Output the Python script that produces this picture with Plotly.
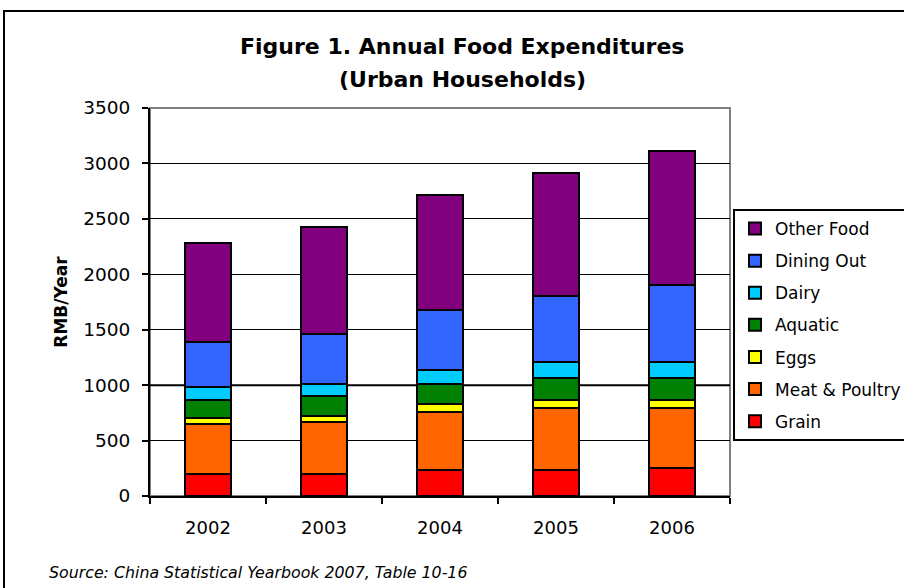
import plotly.graph_objects as go

years = ["2002", "2003", "2004", "2005", "2006"]
grain = [199, 199, 235, 235, 253]
meat_poultry = [452, 470, 524, 561, 543]
eggs = [54, 54, 73, 72, 72]
aquatic = [163, 181, 181, 199, 199]
dairy = [111, 109, 126, 145, 145]
dining_out = [413, 452, 543, 596, 687]
other_food = [887, 964, 1033, 1103, 1211]

series = [
    ("Grain", grain, "#FF0000"),
    ("Meat & Poultry", meat_poultry, "#FF6600"),
    ("Eggs", eggs, "#FFFF00"),
    ("Aquatic", aquatic, "#008000"),
    ("Dairy", dairy, "#00CCFF"),
    ("Dining Out", dining_out, "#3366FF"),
    ("Other Food", other_food, "#800080"),
]

FONT = "DejaVu Sans, Liberation Sans, Arial, sans-serif"

fig = go.Figure()
n = len(series)
for i, (name, vals, color) in enumerate(series):
    fig.add_trace(go.Bar(
        x=years, y=vals, name=name, legendgroup=name,
        legendrank=1000 + (n - i),
        marker=dict(color=color, line=dict(color="black", width=2)),
    ))

W, H = 904, 588
L, R, T, B = 150, 730, 108, 496
pw, ph = R - L, B - T

def px(x):
    return (x - L) / pw

def py(y):
    return (B - y) / ph

fig.update_layout(
    width=W, height=H,
    margin=dict(l=L, r=W - R, t=T, b=H - B, pad=0, autoexpand=False),
    paper_bgcolor="white", plot_bgcolor="white",
    barmode="stack", bargap=0.6,
    font=dict(family=FONT, color="black", size=18),
    showlegend=True,
    legend=dict(
        x=px(733), y=py(209), xanchor="left", yanchor="top",
        traceorder="grouped",
        bordercolor="black", borderwidth=2, bgcolor="white",
        font=dict(family=FONT, size=17, color="black"),
        tracegroupgap=7,
    ),
    xaxis=dict(
        type="category", showgrid=False,
        showline=True, linecolor="black", linewidth=2,
        ticks="outside", ticklen=6, tickwidth=2, tickcolor="black",
        tickson="boundaries",
        tickfont=dict(family=FONT, size=18),
        ticklabelstandoff=14,
    ),
    yaxis=dict(
        range=[0, 3500], dtick=500, tick0=0,
        showgrid=True, gridcolor="black", gridwidth=1,
        zeroline=False,
        showline=True, linecolor="black", linewidth=2,
        ticks="outside", ticklen=6, tickwidth=2, tickcolor="black",
        tickfont=dict(family=FONT, size=18.5),
        ticklabelstandoff=8,
        title=dict(text="<b>RMB/Year</b>", font=dict(family=FONT, size=17), standoff=11),
    ),
    shapes=[
        dict(type="rect", xref="paper", yref="paper", x0=0, x1=1, y0=0, y1=1,
             line=dict(color="#808080", width=2), layer="below"),
        dict(type="line", xref="paper", yref="y", x0=0, x1=1, y0=1000, y1=1000,
             line=dict(color="black", width=2), layer="below"),
        dict(type="rect", xref="paper", yref="paper",
             x0=px(4), x1=px(920), y0=py(600), y1=py(11),
             line=dict(color="black", width=2), layer="below"),
    ],
    annotations=[
        dict(text="<b>Figure 1. Annual Food Expenditures</b>", xref="paper", yref="paper",
             x=px(462), y=py(47), xanchor="center", yanchor="middle", showarrow=False,
             font=dict(family=FONT, size=22, color="black")),
        dict(text="<b>(Urban Households)</b>", xref="paper", yref="paper",
             x=px(462), y=py(79), xanchor="center", yanchor="middle", showarrow=False,
             font=dict(family=FONT, size=22, color="black")),
        dict(text="<i>Source: China Statistical Yearbook 2007, Table 10-16</i>",
             xref="paper", yref="paper", x=px(47), y=py(572),
             xanchor="left", yanchor="middle", showarrow=False,
             font=dict(family=FONT, size=15.8, color="black")),
    ],
)

fig.write_html("out.html")
